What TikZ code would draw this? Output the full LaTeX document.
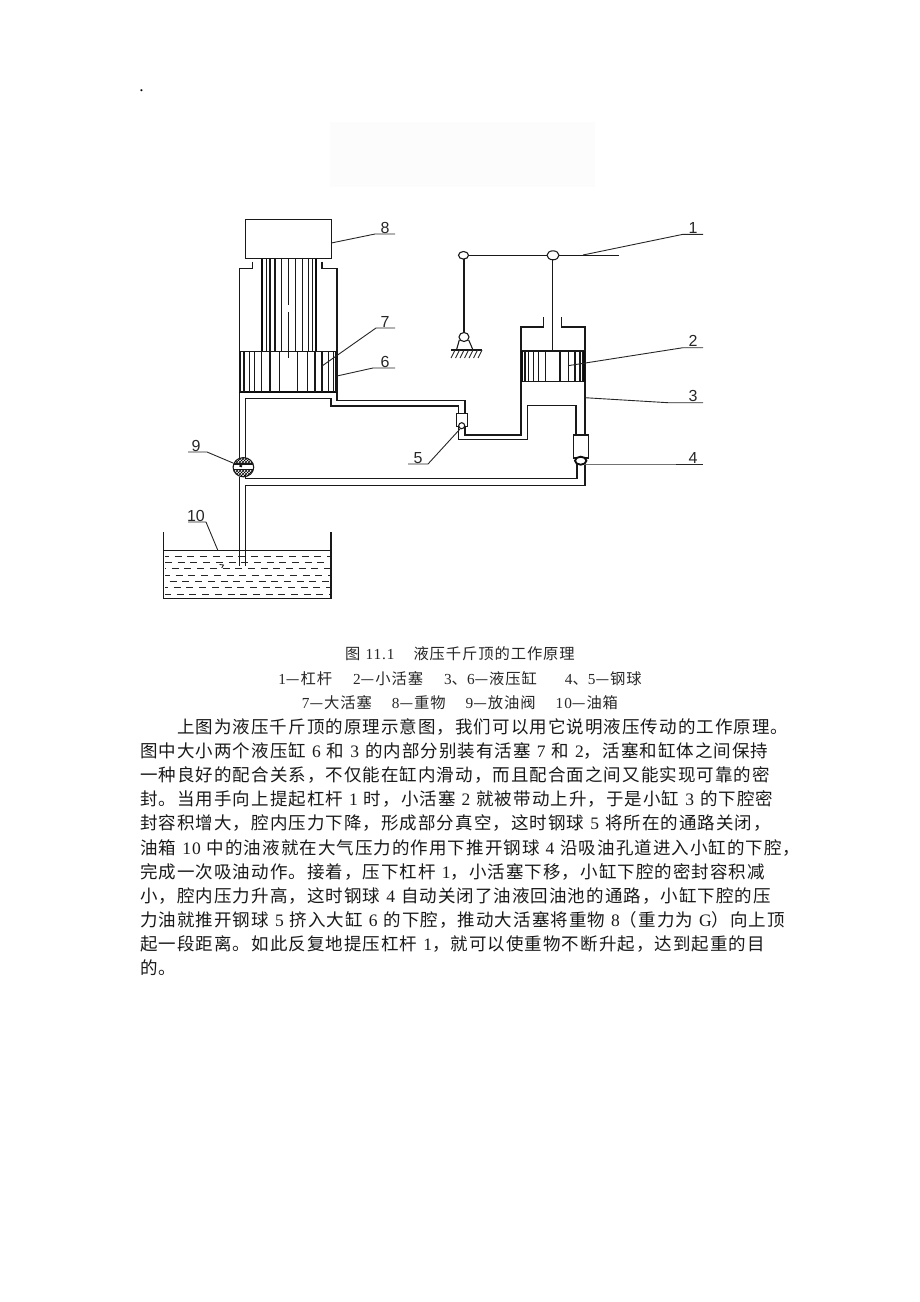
\documentclass[tikz,border=0pt]{standalone}
\usepackage{fontspec}
\setmainfont[LetterSpace=6]{Noto Sans CJK SC}
\newfontfamily\latinfont[LetterSpace=6]{Liberation Serif}
\newfontfamily\labelfont{Liberation Sans}
\usetikzlibrary{patterns}
\newcommand{\dg}[1]{{\latinfont #1}}
\newcommand{\bodyfont}{\fontsize{17.5pt}{20pt}\selectfont\spaceskip=6pt\relax}
\newcommand{\captionfont}{\fontsize{15.3pt}{18pt}\selectfont\spaceskip=8pt\relax}
\tikzset{
  part/.style={line width=1.1pt,black!90},
  leader/.style={line width=0.9pt,black!85},
  heavy/.style={line width=1.9pt,black!95},
  bodyline/.style={anchor=base west,inner sep=0pt,font=\bodyfont,black!90},
  capline/.style={anchor=base,inner sep=0pt,font=\captionfont,black!85},
  partno/.style={inner sep=0pt,font=\labelfont\fontsize{16pt}{18pt}\selectfont,black!85},
}
\begin{document}
\begin{tikzpicture}[x=1pt,y=-1pt]
\useasboundingbox (0,0) rectangle (920,1302);
\node[anchor=base,inner sep=0pt,font=\latinfont\fontsize{17.5pt}{20pt}\selectfont] (dot) at (141.5,91) {.};
\fill[black!1] (330,122) rectangle (595,187);

% load and big cylinder
\draw[part] (245.3,219.3) rectangle (331.3,258.7);
\draw[part] (252.7,261.7) -- (252.7,268.3) -- (239.3,268.3) -- (239.3,458);
\draw[part] (322,261.7) -- (322,268.3) -- (337,268.3) -- (337,400.3) -- (465,400.3) -- (465,413.3);
\draw[part] (245.7,458) -- (245.7,398.3) -- (331,398.3) -- (331,406) -- (458.5,406) -- (458.5,413.3);

% big piston and rod
\foreach \x in {262,316} \draw[heavy] (\x,258.7) -- (\x,351.3);
\foreach \x in {266.7,270,275,281.7,295.7,302.7,308.3,312.7} \draw[part] (\x,258.7) -- (\x,351.3);
\draw[part] (288.3,258.7) -- (288.3,305);
\draw[part] (288.3,312) -- (288.3,358);
\draw[part] (239.3,351.3) -- (337,351.3);
\draw[heavy] (239.3,391.7) -- (337,391.7);
\foreach \x in {240,244,249.3,254.3,261.3,270,279.7,297.3,307.3,315,322,328.3,333.3,336} \draw[part] (\x,351.3) -- (\x,391.7);

% lever and support
\draw[part] (468.5,255.3) -- (547,255.3);
\draw[part] (559,255.3) -- (619.3,255.3);
\draw[part] (463.5,255.3) ellipse [x radius=5pt,y radius=3.8pt];
\draw[part] (553,255.3) ellipse [x radius=6pt,y radius=4.5pt];
\draw[part] (464,259) -- (464,332.5);
\draw[part] (552.7,259.8) -- (552.7,351);
\draw[part] (464,337) ellipse [x radius=5pt,y radius=4.5pt];
\draw[part] (459.3,340) -- (456.5,350);
\draw[part] (468.7,340) -- (473,350);
\draw[part] (451,350) -- (482,350);
\foreach \x in {455,459.5,464,468.5,473,477.5,482} \draw[leader] (\x,350) -- (\x-4,358);

% small cylinder
\draw[part] (543.3,317.3) -- (543.3,327) -- (521,327) -- (521,435) -- (465,435) -- (465,427);
\draw[part] (561.3,317.3) -- (561.3,327) -- (585,327) -- (585,435);
\draw[part] (458.5,427) -- (458.5,439.3) -- (527.3,439.3) -- (527.3,405.7) -- (576,405.7) -- (576,435);
\draw[part] (521,351) -- (585,351);
\draw[part] (521,381.7) -- (585,381.7);
\foreach \x in {525,528.3,533.3,538.3,545.7,560,568.3,575,580,582.7} \draw[part] (\x,351) -- (\x,381.7);
\foreach \x in {522,584} \draw[heavy] (\x,351) -- (\x,381.7);

% ball valves
\draw[part] (456.7,413.3) rectangle (467.7,426.7);
\draw[part,fill=white] (461.7,425.7) circle [radius=3pt];
\draw[part] (573.3,435) rectangle (588.3,458);
\draw[heavy,fill=white] (580.7,460.7) ellipse [x radius=5.7pt,y radius=4pt];
\draw[part] (577,464) -- (577,478.7) -- (245.7,478.7) -- (245.7,475);
\draw[part] (585,464.5) -- (585,485.5) -- (245.7,485.5) -- (245.7,565.7);
\draw[part] (239.3,476.5) -- (239.3,565.7);

% drain valve
\begin{scope}
\clip (243.4,467.2) ellipse [x radius=10.3pt,y radius=9.6pt];
\fill[pattern=crosshatch,pattern color=black] (232,457) rectangle (255,478);
\fill[white] (232,464) rectangle (255,469.5);
\draw[part] (232,464) -- (255,464);
\draw[part] (232,469.5) -- (255,469.5);
\draw[heavy] (239.5,465.5) -- (242,466.5);
\end{scope}
\draw[part] (243.4,467.2) ellipse [x radius=10.3pt,y radius=9.6pt];

% oil tank
\draw[part] (163.7,532) -- (163.7,598.3) -- (331,598.3) -- (331,532);
\draw[part] (163.7,550.3) -- (331,550.3);
\foreach \ypos/\ph in {556/3,562.7/0,568.7/6,575/2,581/8,587.7/4,594/1}
  \draw[leader,dash pattern=on 7pt off 5.7pt,dash phase=\ph pt] (165,\ypos) -- (329.5,\ypos);
\draw[leader] (219.5,564.5) -- (223.5,565) -- (221.7,568);

% numbered leaders
\foreach \i/\px/\py/\kx/\ky/\ex/\lx/\ly in {
  1/583/255/683/234.3/703/693/228,
  2/568/365.7/683/347.7/703/693/341,
  3/585/397.7/668/402.7/703/693/396,
  4/585/464/650/464/703/693/458,
  5/460/429/428/464/408/418/458,
  6/337/376/373/368/395/385/362,
  7/322/366/376/328/395/385/322,
  8/331.3/243/375/234/395/385/228,
  9/233/463/207/452/188/196/446,
  10/217.7/550/206/522/188/196/516}{
  \coordinate (p\i) at (\px,\py);
  \coordinate (k\i) at (\kx,\ky);
  \coordinate (e\i) at (\ex,\ky);
  \draw[leader] (p\i) -- (k\i) -- (e\i);
  \node[partno] (no\i) at (\lx,\ly) {\i};
}

% caption
\node[capline] (cap1) at (460,659) {图\hspace*{5pt}\dg{11.1}\hspace*{19pt}液压千斤顶的工作原理};
\node[capline] (cap2) at (460,684) {\dg{1}—杠杆\hspace*{21pt}\dg{2}—小活塞\hspace*{21pt}\dg{3}、\dg{6}—液压缸\hspace*{28pt}\dg{4}、\dg{5}—钢球};
\node[capline] (cap3) at (460,708) {\dg{7}—大活塞\hspace*{20pt}\dg{8}—重物\hspace*{20pt}\dg{9}—放油阀\hspace*{20pt}\dg{10}—油箱};

% body text
\foreach \xpos/\ypos/\txt [count=\n] in {
  177/733.5/{上图为液压千斤顶的原理示意图，我们可以用它说明液压传动的工作原理。},
  140/757.5/{图中大小两个液压缸 \dg{6} 和 \dg{3} 的内部分别装有活塞 \dg{7} 和 \dg{2}，活塞和缸体之间保持},
  140/781.7/{一种良好的配合关系，不仅能在缸内滑动，而且配合面之间又能实现可靠的密},
  140/805.8/{封。当用手向上提起杠杆 \dg{1} 时，小活塞 \dg{2} 就被带动上升，于是小缸 \dg{3} 的下腔密},
  140/829.9/{封容积增大，腔内压力下降，形成部分真空，这时钢球 \dg{5} 将所在的通路关闭，},
  140/854/{油箱 \dg{10} 中的油液就在大气压力的作用下推开钢球 \dg{4} 沿吸油孔道进入小缸的下腔，},
  140/878.1/{完成一次吸油动作。接着，压下杠杆 \dg{1}，小活塞下移，小缸下腔的密封容积减},
  140/902.4/{小，腔内压力升高，这时钢球 \dg{4} 自动关闭了油液回油池的通路，小缸下腔的压},
  140/926.4/{力油就推开钢球 \dg{5} 挤入大缸 \dg{6} 的下腔，推动大活塞将重物 \dg{8}（重力为 \dg{G}）向上顶},
  140/950.5/{起一段距离。如此反复地提压杠杆 \dg{1}，就可以使重物不断升起，达到起重的目},
  140/974.6/{的。}}{
  \node[bodyline] (body\n) at (\xpos,\ypos) {\txt};
}
\end{tikzpicture}
\end{document}
